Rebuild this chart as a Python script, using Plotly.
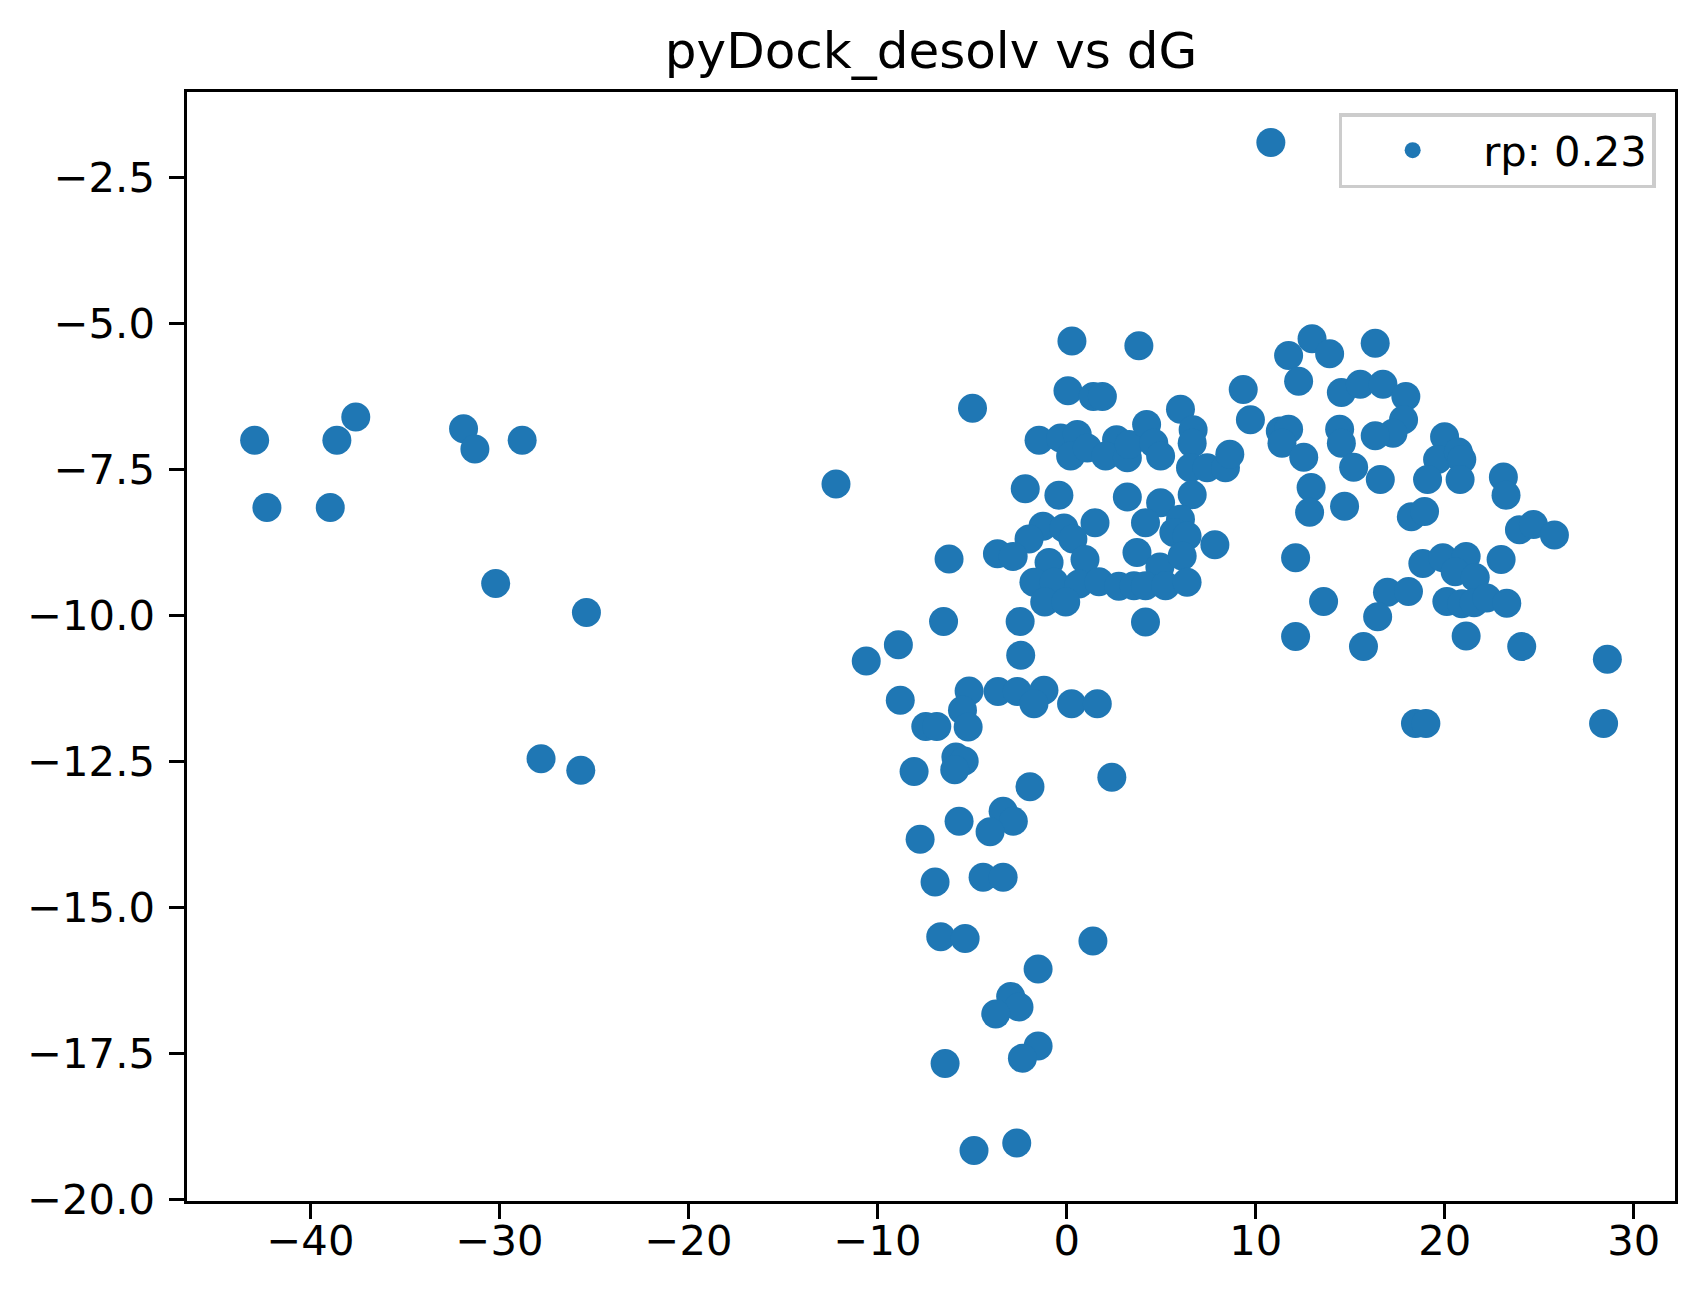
import plotly.graph_objects as go

# pyDock desolvation score (x) against experimental dG (y), one point per complex
desolv = [
    -42.95, -42.3, -38.95, -38.6, -37.6, -31.9, -31.3, -28.8, -30.2, -27.8, -25.7, -25.4, -12.2,
    -10.6, -8.9, -8.8, -7.45, -6.87, -8.07, -7.75, -6.96, -6.66, -5.37, -6.43, -4.9, -2.64,
    -6.22, -6.51, -4.98,
    -5.16, -5.51, -5.21, -3.63, -2.61, -1.2, -1.73, 0.26, 1.62, -5.86, -5.42, -5.92, -1.94,
    2.39, -5.69, -3.36, -2.82, -4.05, -4.42, -3.36,
    1.39, -1.51, -2.96, -2.52, -3.75, -1.51, -2.34,
    0.28, 3.82, 0.07, 1.41, 1.89, 6.02, 9.34, 9.72,
    -1.46, -0.32, 0.56, 0.21, 1.09, 2.64, 2.06, 3.21, 3.3, 4.23, 4.61, 4.97, 6.69, 6.64,
    6.55, 7.43, 8.4, 8.63,
    -2.19, -0.41, 3.21, 4.97, 6.64, 4.17, 6.02, 5.67, 6.37, 7.84, 1.5, -1.25, -0.14, -1.99,
    0.33, -3.66, -2.83, -0.93, 0.97, 3.72, 4.93, 6.11,
    -1.73, -0.67, 0.65, 1.71, 2.76, 3.56, 4.17, 5.23, 6.37, -1.16, -0.05, -2.46, 4.17, -2.43,
    12.98, 11.74, 13.91, 16.32, 12.27, 14.53, 15.53, 16.73, 17.94, 17.82, 17.26, 16.32,
    11.3, 11.74, 11.39, 12.54, 14.44, 14.53, 15.18, 16.59, 12.93, 12.85, 14.7,
    19.99, 19.62, 20.72, 20.9, 19.09, 20.81, 23.1, 23.24, 18.23, 18.93, 23.95, 24.69, 25.8,
    12.11, 13.59, 18.84, 19.9, 21.13, 20.55, 21.61, 22.98, 16.97, 18.08, 16.45,
    20.11, 20.9, 21.55, 22.22, 23.28, 12.11, 15.7, 21.13, 24.07, 28.6, 28.4, 18.45, 19.0,
    10.8,
]
dg = [
    -7.0, -8.15, -8.15, -7.0, -6.6, -6.8, -7.15, -7.0, -9.45, -12.45, -12.65, -9.95, -7.75,
    -10.78, -10.5, -11.45, -11.9, -11.9, -12.67, -13.83, -14.56, -15.5, -15.53, -17.67, -19.16, -19.03,
    -9.03, -10.1, -6.45,
    -11.29, -11.62, -11.91, -11.3, -11.3, -11.28, -11.51, -11.51, -11.51, -12.42, -12.49, -12.64, -12.93,
    -12.77, -13.52, -13.35, -13.52, -13.7, -14.48, -14.48,
    -15.57, -16.05, -16.52, -16.7, -16.82, -17.37, -17.58,
    -5.3, -5.38, -6.15, -6.25, -6.25, -6.47, -6.13, -6.65,
    -7.0, -6.96, -6.9, -7.27, -7.13, -6.99, -7.27, -7.3, -7.07, -6.73, -7.05, -7.27, -6.82, -7.05,
    -7.47, -7.47, -7.47, -7.24,
    -7.83, -7.94, -7.97, -8.07, -7.93, -8.41, -8.35, -8.58, -8.64, -8.79, -8.41, -8.47, -8.5, -8.69,
    -8.69, -8.94, -8.99, -9.09, -9.04, -8.92, -9.17, -8.98,
    -9.43, -9.43, -9.46, -9.42, -9.5, -9.49, -9.49, -9.49, -9.43, -9.77, -9.77, -10.1, -10.11, -10.68,
    -5.26, -5.55, -5.52, -5.34, -5.99, -6.18, -6.04, -6.04, -6.25, -6.65, -6.88, -6.92,
    -6.84, -6.81, -7.05, -7.29, -6.81, -7.05, -7.46, -7.67, -7.81, -8.23, -8.13,
    -6.94, -7.33, -7.2, -7.33, -7.67, -7.67, -7.63, -7.94, -8.31, -8.22, -8.53, -8.44, -8.62,
    -9.01, -9.76, -9.11, -9.01, -8.99, -9.25, -9.35, -9.04, -9.6, -9.59, -10.02,
    -9.76, -9.8, -9.78, -9.7, -9.79, -10.36, -10.53, -10.35, -10.53, -10.75, -11.85, -11.85, -11.85,
    -1.9,
]
legend_label = "rp: 0.23"
chart_title = "pyDock_desolv vs dG"


def padded(vals, frac=0.05):
    # same 5% autoscale margin matplotlib uses
    lo, hi = min(vals), max(vals)
    pad = (hi - lo) * frac
    return [lo - pad, hi + pad]


fig = go.Figure(go.Scatter(
    x=desolv, y=dg,
    mode="markers",
    name=legend_label,
    marker=dict(size=29, color="#1f77b4", line=dict(width=0)),
))

axis_style = dict(
    showline=True, linecolor="black", linewidth=3.3, mirror=True,
    ticks="outside", ticklen=14.6, tickwidth=3.3, tickcolor="black",
    showgrid=False, zeroline=False,
    tickfont=dict(size=41.7, color="black"),
)

# the html page body has an 8px default margin, so the figure is 8px smaller
# and the left/top margins are 8px less to keep the axes where they belong
fig.update_layout(
    width=1696, height=1294,
    margin=dict(l=179, r=29, t=84, b=101),
    paper_bgcolor="white", plot_bgcolor="white",
    font=dict(family="DejaVu Sans", color="black"),
    title=dict(
        text=chart_title, x=0.5, xanchor="center", xref="paper",
        y=1, yref="paper", yanchor="bottom", pad=dict(b=24),
        font=dict(size=50, color="black"),
    ),
    xaxis=dict(range=padded(desolv), dtick=10, tick0=0, ticklabelstandoff=-14, **axis_style),
    yaxis=dict(range=padded(dg), dtick=2.5, tick0=0, tickformat=".1f", ticklabelstandoff=6, **axis_style),
    showlegend=True,
    legend=dict(
        x=0.987, y=0.981, xanchor="right", yanchor="top",
        bgcolor="rgba(255,255,255,0.8)", bordercolor="#cccccc", borderwidth=3.5,
        font=dict(size=41.7, color="black"), itemwidth=131,
    ),
)

fig.write_html("out.html", config=dict(displayModeBar=False))
